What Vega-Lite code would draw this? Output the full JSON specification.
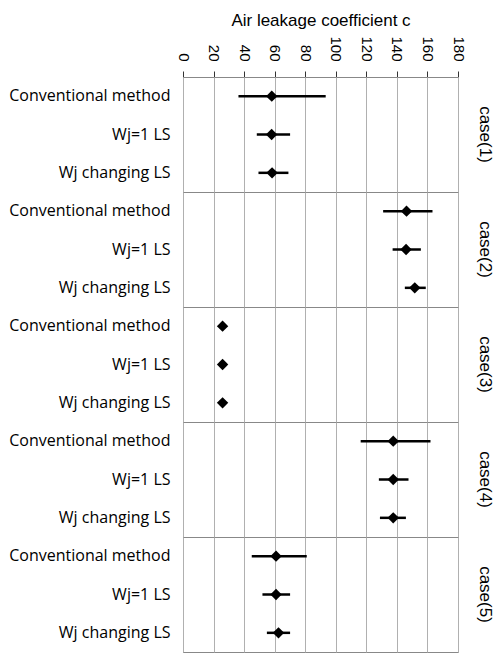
{
  "$schema": "https://vega.github.io/schema/vega-lite/v6.json",
  "padding": {"left": 8, "top": 11, "right": 2, "bottom": 0},
  "background": "white",
  "data": {"values": [
    {"case": "case(1)", "method": "Conventional method", "c": 58.1, "lo": 36.3, "hi": 93.4},
    {"case": "case(1)", "method": "Wj=1 LS", "c": 58.0, "lo": 48.3, "hi": 70.1},
    {"case": "case(1)", "method": "Wj changing LS", "c": 58.3, "lo": 49.4, "hi": 69.0},
    {"case": "case(2)", "method": "Conventional method", "c": 146.3, "lo": 131.0, "hi": 163.3},
    {"case": "case(2)", "method": "Wj=1 LS", "c": 146.0, "lo": 137.2, "hi": 155.7},
    {"case": "case(2)", "method": "Wj changing LS", "c": 151.7, "lo": 145.2, "hi": 158.9},
    {"case": "case(3)", "method": "Conventional method", "c": 25.9, "lo": 25.0, "hi": 26.8},
    {"case": "case(3)", "method": "Wj=1 LS", "c": 25.9, "lo": 25.0, "hi": 26.8},
    {"case": "case(3)", "method": "Wj changing LS", "c": 25.9, "lo": 25.0, "hi": 26.8},
    {"case": "case(4)", "method": "Conventional method", "c": 137.6, "lo": 116.3, "hi": 162.0},
    {"case": "case(4)", "method": "Wj=1 LS", "c": 137.6, "lo": 128.2, "hi": 147.6},
    {"case": "case(4)", "method": "Wj changing LS", "c": 137.6, "lo": 128.9, "hi": 145.9},
    {"case": "case(5)", "method": "Conventional method", "c": 60.9, "lo": 45.0, "hi": 81.0},
    {"case": "case(5)", "method": "Wj=1 LS", "c": 60.9, "lo": 52.0, "hi": 70.1},
    {"case": "case(5)", "method": "Wj changing LS", "c": 62.5, "lo": 54.9, "hi": 70.1}
  ]},
  "facet": {
    "row": {
      "field": "case", "type": "nominal",
      "header": {
        "title": null,
        "labelOrient": "right",
        "labelAngle": 90,
        "labelFont": "Liberation Sans",
        "labelFontSize": 17,
        "labelColor": "black",
        "labelPadding": 18
      }
    }
  },
  "spacing": {"row": 0},
  "bounds": "flush",
  "spec": {
    "width": 275,
    "height": 115,
    "layer": [
      {
        "mark": {"type": "rule", "strokeWidth": 2.5, "color": "black"},
        "encoding": {
          "y": {
            "field": "method", "type": "nominal",
            "sort": ["Conventional method", "Wj=1 LS", "Wj changing LS"],
            "title": null,
            "axis": {
              "ticks": false,
              "domainColor": "#333333",
              "labelFont": "Open Sans",
              "labelFontSize": 16,
              "labelColor": "black",
              "labelPadding": 13,
              "grid": false
            }
          },
          "x": {
            "field": "lo", "type": "quantitative",
            "scale": {"domain": [0, 180], "nice": false},
            "title": "Air leakage coefficient c",
            "axis": {
              "orient": "top",
              "values": [0, 20, 40, 60, 80, 100, 120, 140, 160, 180],
              "labelOverlap": false,
              "labelAngle": 90,
              "labelAlign": "right",
              "labelBaseline": "middle",
              "labelFont": "Liberation Sans",
              "labelFontSize": 15,
              "labelColor": "black",
              "labelPadding": 10,
              "tickColor": "#333333",
              "tickSize": 6,
              "domainColor": "#333333",
              "grid": true,
              "gridColor": "#b0b0b0",
              "gridWidth": 1,
              "gridOpacity": 1,
              "titleFont": "Liberation Sans",
              "titleFontSize": 17,
              "titleFontWeight": "normal",
              "titleColor": "black",
              "titlePadding": 6
            }
          },
          "x2": {"field": "hi"}
        }
      },
      {
        "mark": {"type": "point", "shape": "diamond", "filled": true, "color": "black", "opacity": 1, "size": 130},
        "encoding": {
          "y": {
            "field": "method", "type": "nominal",
            "sort": ["Conventional method", "Wj=1 LS", "Wj changing LS"],
            "title": null,
            "axis": {
              "ticks": false,
              "domainColor": "#333333",
              "labelFont": "Open Sans",
              "labelFontSize": 16,
              "labelColor": "black",
              "labelPadding": 13,
              "grid": false
            }
          },
          "x": {
            "field": "c", "type": "quantitative",
            "scale": {"domain": [0, 180], "nice": false},
            "title": "Air leakage coefficient c",
            "axis": {
              "orient": "top",
              "values": [0, 20, 40, 60, 80, 100, 120, 140, 160, 180],
              "labelOverlap": false,
              "labelAngle": 90,
              "labelAlign": "right",
              "labelBaseline": "middle",
              "labelFont": "Liberation Sans",
              "labelFontSize": 15,
              "labelColor": "black",
              "labelPadding": 10,
              "tickColor": "#333333",
              "tickSize": 6,
              "domainColor": "#333333",
              "grid": true,
              "gridColor": "#b0b0b0",
              "gridWidth": 1,
              "gridOpacity": 1,
              "titleFont": "Liberation Sans",
              "titleFontSize": 17,
              "titleFontWeight": "normal",
              "titleColor": "black",
              "titlePadding": 6
            }
          }
        }
      }
    ]
  },
  "config": {
    "view": {"stroke": "#888888", "strokeWidth": 1}
  }
}
